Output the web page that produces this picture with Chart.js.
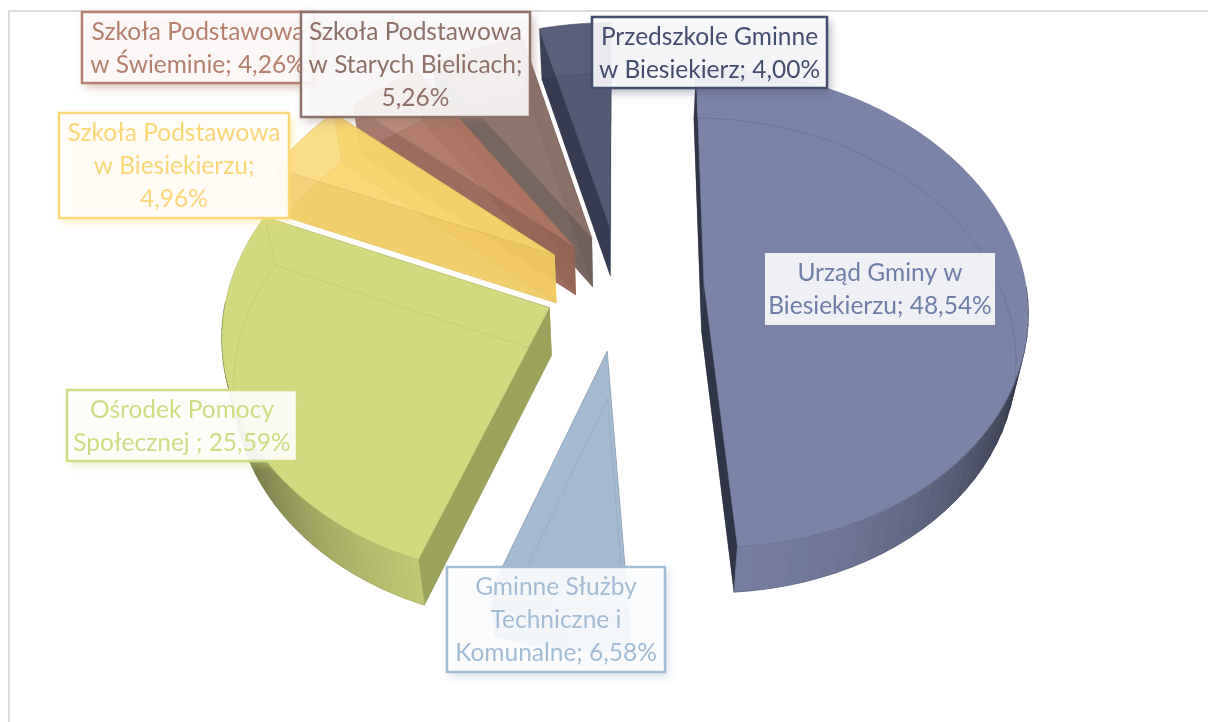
<!DOCTYPE html>
<html>
<head>
<meta charset="utf-8">
<title>Wykres</title>
<script src="https://cdn.jsdelivr.net/npm/chart.js@4"></script>
<style>
    body { margin: 0; background: #fff; }
    #ramka { position: absolute; left: 8px; top: 10px; width: 1200px; height: 712px;
             border-left: 2px solid #dcdcdc; border-top: 2px solid #dcdcdc; box-sizing: border-box; }
    canvas { position: absolute; left: 0; top: 0; }
</style>
</head>
<body>
<div id="ramka"></div>
<canvas id="myChart" width="1208" height="722"></canvas>
<script>
const kategorie = ["Urząd Gminy w Biesiekierzu", "Gminne Służby Techniczne i Komunalne", "Ośrodek Pomocy Społecznej",
    "Szkoła Podstawowa w Biesiekierzu", "Szkoła Podstawowa w Świeminie", "Szkoła Podstawowa w Starych Bielicach",
    "Przedszkole Gminne w Biesiekierz"];
const wartosci = [48.54, 6.58, 25.59, 4.96, 4.26, 5.26, 4.00];
const wysuniecie = [84, 88, 76, 78, 70, 70, 80];
const skalaPromienia = [1, 0.92, 1, 1, 1, 1, 1];

const kolory = [[123, 131, 168], [163, 186, 209], [210, 218, 128], [250, 214, 110], [176, 120, 100], [140, 113, 104], [83, 88, 118]];
const krycie = [1, 1, 1, 0.82, 0.85, 0.88, 0.96];
const kolorScianki = [[47, 53, 71], [110, 130, 155], [154, 162, 92], [240, 200, 95], [150, 100, 85], [112, 95, 88], [52, 57, 80]];

// etykiety: tekst i ramka [x, y, szer, wys]
const etykiety = [
    { linie: ["Urząd Gminy w", "Biesiekierzu; 48,54%"], ramka: [765, 253, 230, 72], kolor: "#6f7ea6", brzeg: null },
    { linie: ["Gminne Służby", "Techniczne i", "Komunalne; 6,58%"], ramka: [447, 567, 218, 105], kolor: "#a3bcd4", brzeg: "#a3bcd4" },
    { linie: ["Ośrodek Pomocy", "Społecznej ; 25,59%"], ramka: [67, 390, 230, 71], kolor: "#d0db84", brzeg: "#d0db84" },
    { linie: ["Szkoła Podstawowa", "w Biesiekierzu;", "4,96%"], ramka: [59, 113, 230, 105], kolor: "#fad878", brzeg: "#fad878" },
    { linie: ["Szkoła Podstawowa", "w Świeminie; 4,26%"], ramka: [82, 12, 232, 71], kolor: "#b5806e", brzeg: "#b5806e" },
    { linie: ["Szkoła Podstawowa", "w Starych Bielicach;", "5,26%"], ramka: [301, 12, 229, 105], kolor: "#8e7168", brzeg: "#8e7168" },
    { linie: ["Przedszkole Gminne", "w Biesiekierz; 4,00%"], ramka: [592, 17, 235, 71], kolor: "#434d6e", brzeg: "#434d6e" }
];

const K = 0.00032;      // perspektywa
const SY = 0.7376;      // pochylenie
const GRUBOSC = 48;
const ZWEZENIE = 0.97;

function rzut(arc, u, v, dol) {
    const w = 1 / (1 - K * v);
    const s = dol ? ZWEZENIE : 1;
    return [arc.x + u * w * s, arc.y + SY * v * w * s + (dol ? GRUBOSC * w : 0)];
}

function krawedz(arc, dol, skala) {
    const mid = (arc.startAngle + arc.endAngle) / 2;
    const off = arc.options.offset;
    const r = arc.outerRadius * skala;
    const ex = Math.cos(mid) * off, ey = Math.sin(mid) * off;
    const pkt = [];
    for (let i = 0; i <= 60; i++) {
        const a = arc.startAngle + (arc.endAngle - arc.startAngle) * i / 60;
        const p = rzut(arc, ex + Math.cos(a) * r, ey + Math.sin(a) * r, dol);
        p.push(a);
        pkt.push(p);
    }
    return { srodek: rzut(arc, ex, ey, dol), pkt: pkt };
}

function wielokat(ctx, punkty) {
    ctx.beginPath();
    punkty.forEach((p, i) => i ? ctx.lineTo(p[0], p[1]) : ctx.moveTo(p[0], p[1]));
    ctx.closePath();
}

function rgba(c, a, m) {
    m = m === undefined ? 1 : m;
    return "rgba(" + Math.round(c[0] * m) + "," + Math.round(c[1] * m) + "," + Math.round(c[2] * m) + "," + a + ")";
}

const pie3d = {
    id: "pie3d",
    beforeDatasetDraw(chart) {
        const ctx = chart.ctx;
        const arcs = chart.getDatasetMeta(0).data;
        for (let i = arcs.length - 1; i >= 0; i--) {
            const arc = arcs[i];
            const gora = krawedz(arc, false, skalaPromienia[i]);
            const dol = krawedz(arc, true, skalaPromienia[i]);
            const alfa = krycie[i];
            ctx.save();
            ctx.lineJoin = "round";

            // dno
            wielokat(ctx, [dol.srodek].concat(dol.pkt));
            ctx.fillStyle = rgba(kolorScianki[i], alfa * 0.7);
            ctx.fill();

            // scianki proste
            const n = gora.pkt.length - 1;
            [0, n].forEach(k => {
                wielokat(ctx, [gora.srodek, gora.pkt[k], dol.pkt[k], dol.srodek]);
                ctx.fillStyle = rgba(kolorScianki[i], alfa);
                ctx.fill();
            });

            // bok zewnetrzny, tylko od przodu
            for (let k = 0; k < n; k++) {
                const a = gora.pkt[k][2];
                const sin = Math.sin(a);
                if (sin <= 0) continue;
                const jasnosc = 0.3 + 0.66 * Math.pow(sin, 1.3);
                wielokat(ctx, [gora.pkt[k], gora.pkt[k + 1], dol.pkt[k + 1], dol.pkt[k]]);
                ctx.fillStyle = rgba(kolory[i], 1, jasnosc);
                ctx.strokeStyle = ctx.fillStyle;
                ctx.lineWidth = 0.7;
                ctx.fill();
                ctx.stroke();
            }

            // wierzch
            wielokat(ctx, [gora.srodek].concat(gora.pkt));
            ctx.fillStyle = rgba(kolory[i], alfa);
            ctx.fill();
            ctx.strokeStyle = rgba(kolory[i], 0.7, 0.85);
            ctx.lineWidth = 0.8;
            ctx.stroke();

            // cienkie linie dna i narozy widoczne przez wierzch
            ctx.strokeStyle = rgba(kolorScianki[i], 0.22, 0.8);
            ctx.lineWidth = 0.7;
            wielokat(ctx, [dol.srodek].concat(dol.pkt));
            ctx.stroke();
            [0, n].forEach(k => {
                ctx.beginPath();
                ctx.moveTo(gora.pkt[k][0], gora.pkt[k][1]);
                ctx.lineTo(dol.pkt[k][0], dol.pkt[k][1]);
                ctx.stroke();
            });
            ctx.restore();
        }
        return false;
    },
    afterDraw(chart) {
        const ctx = chart.ctx;
        etykiety.forEach(e => {
            const [x, y, w, h] = e.ramka;
            ctx.save();
            ctx.shadowColor = rgba(kolory[etykiety.indexOf(e)], 0.55);
            ctx.shadowBlur = 9;
            ctx.shadowOffsetX = 3;
            ctx.shadowOffsetY = 4;
            ctx.fillStyle = "rgba(255,255,255,0.88)";
            ctx.fillRect(x, y, w, h);
            ctx.shadowColor = "transparent";
            if (e.brzeg) {
                ctx.strokeStyle = e.brzeg;
                ctx.lineWidth = 2.5;
                ctx.strokeRect(x, y, w, h);
            }
            ctx.fillStyle = e.kolor;
            ctx.font = "24.5px Lato";
            ctx.textAlign = "center";
            ctx.textBaseline = "alphabetic";
            const lh = 33;
            const start = y + h / 2 - (e.linie.length * lh) / 2 + 25;
            e.linie.forEach((l, i) => ctx.fillText(l, x + w / 2, start + i * lh));
            ctx.restore();
        });
    }
};

new Chart("myChart", {
    type: "pie",
    data: {
        labels: kategorie,
        datasets: [{
            data: wartosci,
            backgroundColor: kolory.map((c, i) => rgba(c, krycie[i])),
            borderWidth: 0,
            offset: wysuniecie
        }]
    },
    options: {
        responsive: false,
        animation: false,
        rotation: 0,
        radius: 322,
        layout: { padding: { left: 32, bottom: 152 } },
        plugins: { legend: { display: false }, tooltip: { enabled: false } }
    },
    plugins: [pie3d]
});
</script>
</body>
</html>
